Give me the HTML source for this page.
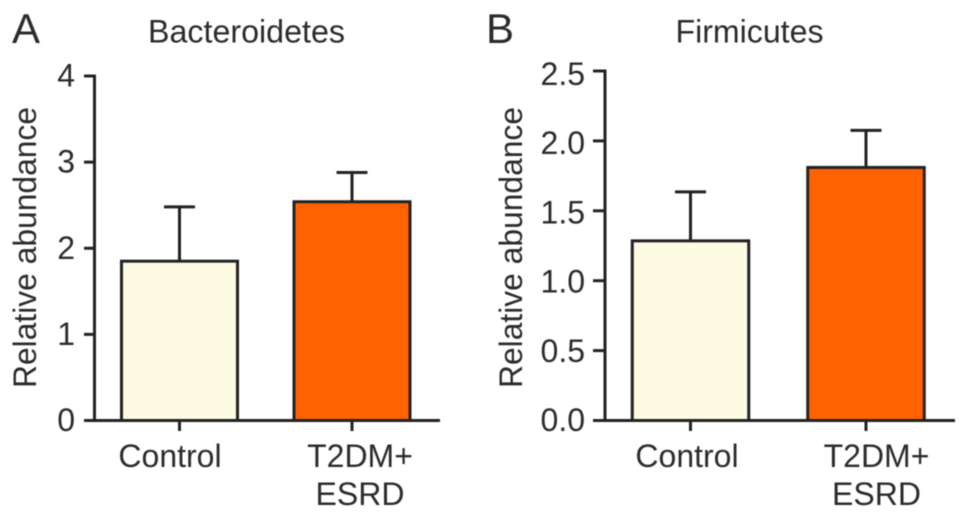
<!DOCTYPE html>
<html>
<head>
<meta charset="utf-8">
<title>Relative abundance of Bacteroidetes and Firmicutes</title>
<style>
html,body{margin:0;padding:0;background:#fff;width:969px;height:519px;overflow:hidden}
svg{display:block;font-family:"Liberation Sans",Arial,sans-serif;filter:blur(0.4px)}
text{fill:#2b2b2b}
</style>
</head>
<body>
<svg id="chart" width="969" height="519" viewBox="0 0 969 519" xmlns="http://www.w3.org/2000/svg"></svg>
<script>
const categories = ['Control', 'T2DM+|ESRD'];
const barColors = ['#fdfbe2', '#ff6200'];
const yAxisTitle = 'Relative abundance';

const bacteroidetesTitle = 'Bacteroidetes';
const bacteroidetesMeans = [1.85, 2.54];
const bacteroidetesUpper = [2.48, 2.88];
const bacteroidetesTicks = [0, 1, 2, 3, 4];
const bacteroidetesTickLabels = ['0', '1', '2', '3', '4'];

const firmicutesTitle = 'Firmicutes';
const firmicutesMeans = [1.285, 1.81];
const firmicutesUpper = [1.635, 2.075];
const firmicutesTicks = [0, 0.5, 1, 1.5, 2, 2.5];
const firmicutesTickLabels = ['0.0', '0.5', '1.0', '1.5', '2.0', '2.5'];

const svg = document.getElementById('chart');
const INK = '#222222';

function make(parent, tag, attrs, text) {
  const el = document.createElementNS('http://www.w3.org/2000/svg', tag);
  for (const k in attrs) el.setAttribute(k, attrs[k]);
  if (text !== undefined) el.textContent = text;
  parent.appendChild(el);
  return el;
}
function line(parent, x1, y1, x2, y2) {
  return make(parent, 'line', {x1, y1, x2, y2, stroke: INK, 'stroke-width': 3});
}

function drawPanel(p) {
  const yScale = v => p.yZero - (v / p.yMax) * (p.yZero - p.yTop);
  const xScale = i => p.xFirst + i * p.xStep;

  const g = make(svg, 'g', {});
  
  

  const letter = make(g, 'text', {x: p.letterX, y: 43, 'font-size': 42}, p.letter);
  
  

  const title = make(g, 'text', {x: p.titleX, y: 42.5, 'font-size': 32, 'text-anchor': 'middle', textLength: p.titleWidth, lengthAdjust: 'spacingAndGlyphs'}, p.title);
  
  

  const yTitle = make(g, 'text', {x: 0, y: 0, 'font-size': 32, 'text-anchor': 'middle', transform: 'translate(' + p.yTitleX + ' 247.5) rotate(-90)', textLength: 281, lengthAdjust: 'spacingAndGlyphs'}, yAxisTitle);
  
  

  p.means.forEach(function (m, i) {
    const cx = xScale(i);
    const err = line(g, cx, yScale(m), cx, yScale(p.upper[i]));
    
    

    const cap = line(g, cx - 15.5, yScale(p.upper[i]), cx + 15.5, yScale(p.upper[i]));
    
    

    const bar = make(g, 'rect', {
      x: cx - p.barWidth / 2,
      y: yScale(m),
      width: p.barWidth,
      height: yScale(0) - yScale(m),
      fill: barColors[i],
      stroke: INK,
      'stroke-width': 3
    });
    
    

    const tick = line(g, cx, p.yZero, cx, p.yZero + 10.5);
    
    

    categories[i].split('|').forEach(function (part, j) {
      const label = make(g, 'text', {x: p.catX[i], y: 467 + j * 38, 'font-size': 32, 'text-anchor': 'middle'}, part);
      
      
    });
  });

  const yAxis = line(g, p.axisX, p.yTop - 1.5, p.axisX, p.yZero + 1.5);
  
  

  const xAxis = line(g, p.tickStart, p.yZero, p.xEnd, p.yZero);
  
  

  p.ticks.forEach(function (t, i) {
    const tick = line(g, p.tickStart, yScale(t), p.axisX, yScale(t));
    
    

    const label = make(g, 'text', {
      x: p.tickLabelX,
      y: yScale(t) + 10.5 + p.labelDrift * (t / p.yMax),
      'font-size': 32,
      'text-anchor': 'end'
    }, p.tickLabels[i]);
    
    
  });
}

drawPanel({
  id: 'bacteroidetes', letter: 'A', letterX: 12, title: bacteroidetesTitle, titleX: 246.5, titleWidth: 197,
  means: bacteroidetesMeans, upper: bacteroidetesUpper, ticks: bacteroidetesTicks, tickLabels: bacteroidetesTickLabels,
  yMax: 4, yTop: 76, yZero: 420.5, axisX: 94.5, tickStart: 84, xEnd: 440,
  xFirst: 179.5, xStep: 172.5, barWidth: 116, catX: [170, 360], tickLabelX: 75, yTitleX: 36, labelDrift: 0
});

drawPanel({
  id: 'firmicutes', letter: 'B', letterX: 486, title: firmicutesTitle, titleX: 749.5, titleWidth: 148,
  means: firmicutesMeans, upper: firmicutesUpper, ticks: firmicutesTicks, tickLabels: firmicutesTickLabels,
  yMax: 2.5, yTop: 71, yZero: 420.5, axisX: 605, tickStart: 593, xEnd: 955,
  xFirst: 690.5, xStep: 175.5, barWidth: 116.5, catX: [687, 876.5], tickLabelX: 585, yTitleX: 522, labelDrift: 3.5
});
</script>
</body>
</html>
